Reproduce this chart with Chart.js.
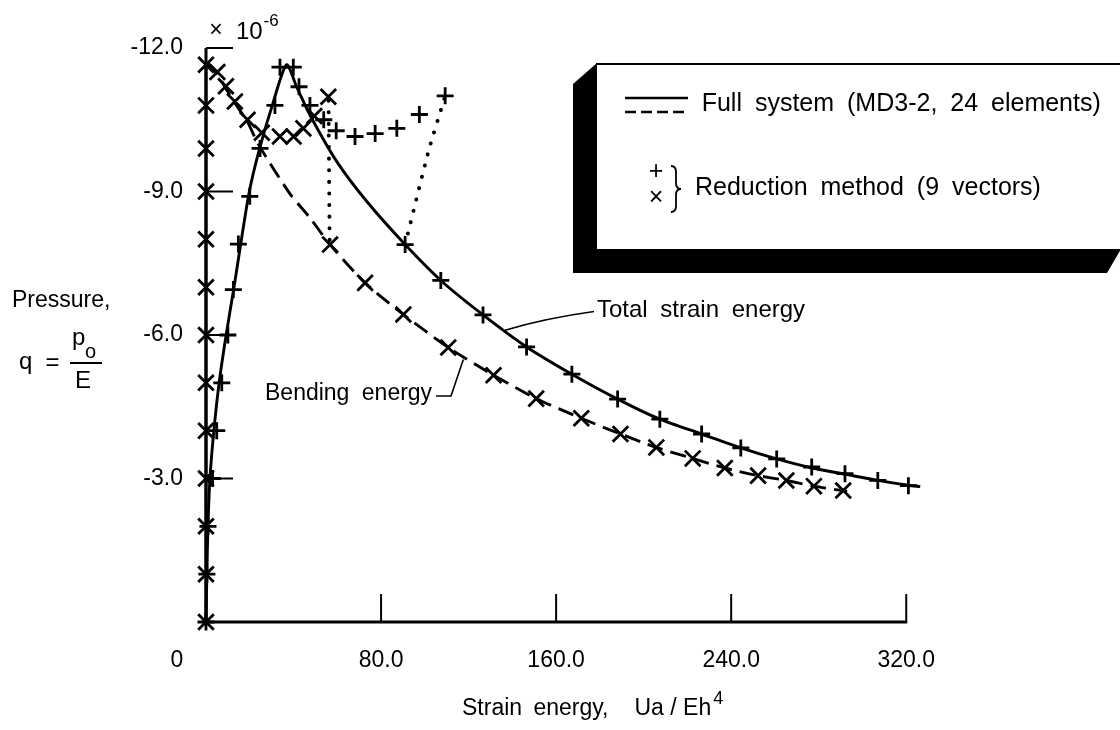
<!DOCTYPE html>
<html>
<head>
<meta charset="utf-8">
<script src="https://cdn.jsdelivr.net/npm/chart.js@4.4.1/dist/chart.umd.min.js"></script>
<style>
  html, body { margin: 0; padding: 0; background: #fff; }
  #wrap { width: 1120px; height: 730px; }
</style>
</head>
<body>
<div id="wrap"><canvas id="chart" width="1120" height="730"></canvas></div>
<script>
// ============================================================
// Strain energy vs pressure
// x = Ua/Eh^4, y = q = p0/E in units of 1e-6
// ============================================================

// axis ticks
const xTicks = [0, 80, 160, 240, 320];
const yTicks = [-12, -9, -6, -3, 0];

// full system, total strain energy (solid)
const totalX = [0, 0.4, 0.9, 1.8, 3.6, 6.0, 9.2, 12.8, 16.2, 19.8, 24.5, 30.3, 36.8, 41.5, 47.5, 59.7, 73.5,
                91.0, 107.3, 126.6, 146.5, 167.2, 188.1, 207.4, 226.5, 244.4, 260.8, 277.0, 292.0, 307.0, 321.0, 326.4];
const totalY = [0, -1.0, -2.0, -3.0, -4.0, -5.0, -6.0, -7.0, -8.0, -9.0, -9.9, -10.8, -11.65, -11.18, -10.6, -9.63, -8.79,
                -7.89, -7.14, -6.42, -5.75, -5.18, -4.66, -4.24, -3.93, -3.64, -3.41, -3.22, -3.09, -2.96, -2.86, -2.83];

// full system, bending energy: zero before buckling, dashed after
const bendPreX = [0, 0];
const bendPreY = [0, -11.7];
const bendX = [0.5, 5.2, 9.1, 13.2, 19.0, 24.0, 38.4, 47.5, 56.7, 72.7, 90.2, 110.7, 131.4, 150.9, 171.5,
               189.4, 205.8, 222.4, 237.1, 252.3, 265.2, 277.8, 293.0];
const bendY = [-11.7, -11.45, -11.15, -10.85, -10.45, -9.98, -8.95, -8.45, -7.89, -7.09, -6.43, -5.74, -5.16, -4.67, -4.26,
               -3.93, -3.65, -3.42, -3.22, -3.06, -2.96, -2.84, -2.73];

// reduction method (9 vectors), total energy  (+)
const plusRiseX = [0, 0.4, 0.9, 3.0, 4.9, 7.2, 10.0, 12.5, 14.8, 20.0, 24.7, 31.5, 33.8, 39.9];
const plusRiseY = [0, -1, -2, -3, -4, -5, -6, -6.95, -7.9, -8.9, -9.9, -10.8, -11.6, -11.6];
const plusOffX  = [42.5, 47.5, 53.8, 59.5, 68.1, 77.3, 87.2, 97.5, 109.3];
const plusOffY  = [-11.19, -10.8, -10.5, -10.27, -10.15, -10.21, -10.32, -10.61, -11.0];
const plusPostX = [91.0, 107.3, 126.6, 146.5, 167.2, 188.1, 207.4, 226.5, 244.4, 260.8, 276.8, 292.0, 307.0, 321.0];
const plusPostY = [-7.89, -7.14, -6.42, -5.75, -5.18, -4.66, -4.24, -3.93, -3.64, -3.41, -3.24, -3.10, -2.96, -2.85];

// reduction method (9 vectors), bending energy  (x)
const crossPreX  = [0, 0, 0, 0, 0, 0, 0, 0, 0, 0, 0, 0, 0];
const crossPreY  = [0, -1, -2, -3, -4, -5, -6, -7, -8, -9, -9.9, -10.8, -11.65];
const crossOffX  = [5.2, 9.1, 13.2, 19.0, 25.5, 33.8, 40.0, 44.5, 49.5, 55.9];
const crossOffY  = [-11.5, -11.2, -10.88, -10.5, -10.23, -10.15, -10.15, -10.32, -10.58, -10.98];
const crossPostX = [56.7, 72.7, 90.2, 110.7, 131.4, 150.9, 171.5, 189.4, 205.8, 222.4, 237.1, 252.3, 265.2, 277.8, 291.2];
const crossPostY = [-7.89, -7.09, -6.43, -5.74, -5.16, -4.67, -4.26, -3.93, -3.65, -3.42, -3.22, -3.06, -2.96, -2.84, -2.75];

// dotted jumps back to the full-system curves
const jump1X = [56.0, 56.5];
const jump1Y = [-10.9, -7.89];
const jump2X = [91.0, 101.6, 109.0];
const jump2Y = [-7.89, -9.83, -10.95];

// ── fonts: use the narrow face when it is installed ─────────────────────────
const probe = document.createElement('canvas').getContext('2d');
function probeWidth(f) { probe.font = '40px ' + f; return probe.measureText('Strain energy 0123').width; }
const NARROW = probeWidth("'Liberation Sans Narrow', monospace") !== probeWidth('monospace');
const FAM = NARROW ? "'Liberation Sans Narrow', 'Liberation Sans', sans-serif"
                   : "'Liberation Sans', Arial, sans-serif";
const K = NARROW ? 1.2 : 1;
const fsize = s => Math.round(s * K * 10) / 10;
const font  = s => fsize(s) + 'px ' + FAM;

Chart.defaults.font.family = FAM;
Chart.defaults.color = '#000';

const pts = (xs, ys) => xs.map((v, i) => ({ x: v, y: ys[i] }));

function lineSet(xs, ys, extra) {
  return Object.assign({
    data: pts(xs, ys), showLine: true, fill: false, clip: false,
    borderColor: '#000', borderWidth: 2.9, pointRadius: 0, tension: 0.25
  }, extra || {});
}
function markSet(xs, ys, style, r) {
  return {
    data: pts(xs, ys), showLine: false, clip: false,
    pointStyle: style, pointRadius: r, pointHoverRadius: r,
    pointBorderWidth: 2.8, pointBorderColor: '#000', pointBackgroundColor: '#000'
  };
}

function put(ctx, str, x, y, size, align, spacing, base) {
  ctx.font = font(size);
  ctx.textAlign = align || 'left';
  ctx.textBaseline = base || 'middle';
  ctx.wordSpacing = (spacing || 0) + 'px';
  ctx.fillText(str, x, y);
  ctx.wordSpacing = '0px';
}

// ── axes with inward ticks, titles, legend box, annotations ─────────────────
const paper = {
  id: 'paper',
  beforeDatasetsDraw(chart) {
    const { ctx, scales: { x, y } } = chart;
    const x0 = x.getPixelForValue(0), y0 = y.getPixelForValue(0);
    ctx.save();
    ctx.strokeStyle = '#000';
    ctx.lineWidth = 3;
    ctx.beginPath();
    ctx.moveTo(x0, y.getPixelForValue(-12));
    ctx.lineTo(x0, y0);
    ctx.lineTo(x.getPixelForValue(320) + 1, y0);
    ctx.stroke();
    ctx.lineWidth = 2;
    xTicks.filter(v => v > 0).forEach(v => {
      const px = x.getPixelForValue(v);
      ctx.beginPath(); ctx.moveTo(px, y0); ctx.lineTo(px, y0 - 28); ctx.stroke();
    });
    yTicks.filter(v => v < 0).forEach(v => {
      const py = y.getPixelForValue(v);
      ctx.beginPath(); ctx.moveTo(x0, py); ctx.lineTo(x0 + 27, py); ctx.stroke();
    });
    ctx.restore();
  },
  afterDraw(chart) {
    const { ctx, scales: { x, y } } = chart;
    ctx.save();
    ctx.fillStyle = '#000';
    ctx.strokeStyle = '#000';

    // shared origin label and exponent
    put(ctx, '0', 177, 661, 23, 'center');
    put(ctx, '\u00d7', 216, 31, 23, 'center');
    put(ctx, '10', 236, 32, 24);
    put(ctx, '-6', 263.5, 21, 17);

    // y title
    put(ctx, 'Pressure,', 12, 301, 23);
    put(ctx, 'q', 19, 369, 24, 'left', 0, 'alphabetic');
    put(ctx, '=', 52.5, 363, 24, 'center');
    ctx.lineWidth = 2;
    ctx.beginPath(); ctx.moveTo(70, 363); ctx.lineTo(102, 363); ctx.stroke();
    put(ctx, 'p', 72, 345, 24, 'left', 0, 'alphabetic');
    put(ctx, 'o', 85, 358, 20, 'left', 0, 'alphabetic');
    put(ctx, 'E', 75, 388, 24, 'left', 0, 'alphabetic');

    // x title
    const tx = 462, ty = 709;
    put(ctx, 'Strain energy,', tx, ty, 23, 'left', 5);
    ctx.font = font(23); ctx.wordSpacing = '5px';
    const w1 = ctx.measureText('Strain energy,').width;
    ctx.wordSpacing = '0px';
    const ux = tx + w1 + 26;
    put(ctx, 'Ua / Eh', ux, ty, 23, 'left', 0);
    ctx.font = font(23);
    const w2 = ctx.measureText('Ua / Eh').width;
    put(ctx, '4', ux + w2 + 2, ty - 10, 18);

    // curve labels with leader lines
    ctx.lineWidth = 1.6;
    const a = [x.getPixelForValue(136.7), y.getPixelForValue(-6.1)];
    ctx.beginPath();
    ctx.moveTo(a[0], a[1]);
    ctx.quadraticCurveTo(a[0] + 40, a[1] - 12, 594, 311.5);
    ctx.stroke();
    put(ctx, 'Total strain energy', 597, 310, 24, 'left', 6);

    const b = [x.getPixelForValue(117.6), y.getPixelForValue(-5.49)];
    ctx.beginPath();
    ctx.moveTo(436, 396);
    ctx.lineTo(451, 396);
    ctx.lineTo(b[0], b[1]);
    ctx.stroke();
    put(ctx, 'Bending energy', 265, 394, 23, 'left', 6);

    // legend box with heavy shadow on left and bottom
    ctx.beginPath();
    ctx.moveTo(573, 84);
    ctx.lineTo(597, 63);
    ctx.lineTo(597, 249);
    ctx.lineTo(1121, 249);
    ctx.lineTo(1107, 273);
    ctx.lineTo(573, 273);
    ctx.closePath();
    ctx.fill();
    ctx.lineWidth = 2;
    ctx.beginPath(); ctx.moveTo(596, 64); ctx.lineTo(1120, 64); ctx.stroke();

    ctx.lineWidth = 2.6;
    ctx.beginPath(); ctx.moveTo(625, 98); ctx.lineTo(688, 98); ctx.stroke();
    ctx.setLineDash([11, 5]);
    ctx.beginPath(); ctx.moveTo(625, 112); ctx.lineTo(688, 112); ctx.stroke();
    ctx.setLineDash([]);
    put(ctx, 'Full system (MD3-2, 24 elements)', 701.7, 104, 25, 'left', 6);

    put(ctx, '+', 656, 172, 25, 'center');
    put(ctx, '\u00d7', 656, 198, 25, 'center');
    ctx.lineWidth = 1.8;
    ctx.beginPath();
    ctx.moveTo(671, 166);
    ctx.quadraticCurveTo(676, 166, 676, 172);
    ctx.lineTo(676, 183);
    ctx.quadraticCurveTo(676, 189, 681, 189);
    ctx.quadraticCurveTo(676, 189, 676, 195);
    ctx.lineTo(676, 206);
    ctx.quadraticCurveTo(676, 212, 671, 212);
    ctx.stroke();
    put(ctx, 'Reduction method (9 vectors)', 695, 188, 25, 'left', 6);

    ctx.restore();
  }
};

const tickFont = { family: FAM, size: fsize(23) };

new Chart(document.getElementById('chart'), {
  type: 'scatter',
  data: {
    datasets: [
      markSet(plusRiseX, plusRiseY, 'cross', 8.5),
      markSet(plusOffX, plusOffY, 'cross', 8.5),
      markSet(plusPostX, plusPostY, 'cross', 8.5),
      markSet(crossPreX, crossPreY, 'crossRot', 11),
      markSet(crossOffX, crossOffY, 'crossRot', 11),
      markSet(crossPostX, crossPostY, 'crossRot', 11),
      lineSet(jump1X, jump1Y, { borderDash: [0.1, 11.5], borderCapStyle: 'round', borderWidth: 4, tension: 0 }),
      lineSet(jump2X, jump2Y, { borderDash: [0.1, 11.5], borderCapStyle: 'round', borderWidth: 4, tension: 0.2 }),
      lineSet(totalX, totalY),
      lineSet(bendPreX, bendPreY, { borderWidth: 3, tension: 0 }),
      lineSet(bendX, bendY, { borderDash: [16, 8] })
    ]
  },
  options: {
    responsive: false,
    animation: false,
    devicePixelRatio: 1,
    layout: { padding: { top: 48, right: 170, left: 0, bottom: 0 } },
    plugins: { legend: { display: false }, tooltip: { enabled: false } },
    scales: {
      x: {
        type: 'linear', min: 0, max: 340,
        afterFit: s => { s.height = 108; },
        afterBuildTicks: s => { s.ticks = xTicks.map(v => ({ value: v })); },
        grid: { display: false, drawTicks: false },
        border: { display: false },
        ticks: {
          font: tickFont, color: '#000', maxRotation: 0, autoSkip: false,
          padding: 661 - 622 - 0.6 * fsize(23),
          callback: v => (v === 0 ? '' : v.toFixed(1))
        }
      },
      y: {
        type: 'linear', min: -12, max: 0, reverse: true,
        afterFit: s => { s.width = 206; },
        afterBuildTicks: s => { s.ticks = yTicks.map(v => ({ value: v })); },
        grid: { display: false, drawTicks: false },
        border: { display: false },
        ticks: {
          font: tickFont, color: '#000', padding: 23,
          callback: v => (v === 0 ? '' : v.toFixed(1))
        }
      }
    }
  },
  plugins: [paper]
});
</script>
</body>
</html>
